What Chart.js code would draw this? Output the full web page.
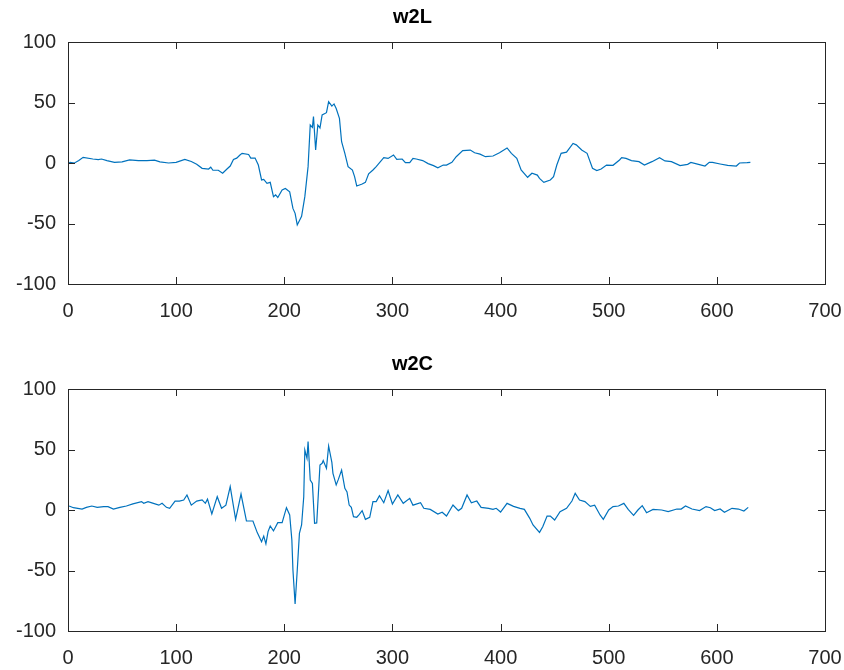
<!DOCTYPE html>
<html>
<head>
<meta charset="utf-8">
<script src="https://cdn.jsdelivr.net/npm/chart.js@4.4.1/dist/chart.umd.min.js"></script>
<style>
  body { margin: 0; background: #fff; }
  canvas { position: absolute; left: 0; }
  #c1 { top: 0; }
  #c2 { top: 347px; }
</style>
</head>
<body>
<canvas id="c1" width="844" height="347"></canvas>
<canvas id="c2" width="844" height="323"></canvas>
<script>
// w2L samples (x = sample index, y = value)
const w2L_x = [1, 2, 6, 10, 14, 23, 28, 31, 36, 43, 50, 57, 65, 73, 80, 85, 93, 100, 108, 114,
  119, 124, 130, 132, 134, 139, 143, 147, 150, 153, 156, 159, 161, 167, 169, 173, 176, 179, 181, 184,
  187, 190, 192, 194, 198, 201, 205, 208, 210, 212, 216, 219, 222, 224, 226, 227, 229, 231, 233, 235,
  239, 241, 244, 246, 248, 251, 253, 256, 259, 263, 265, 267, 272, 275, 278, 282, 285, 292, 296, 301,
  304, 309, 312, 316, 319, 322, 328, 333, 338, 342, 347, 350, 355, 359, 365, 372, 376, 381, 386, 393,
  399, 406, 410, 415, 419, 425, 429, 434, 436, 440, 446, 449, 452, 456, 461, 467, 470, 475, 480, 485,
  489, 493, 498, 504, 510, 512, 516, 521, 528, 533, 540, 547, 552, 558, 566, 573, 576, 583, 589, 593,
  596, 603, 610, 618, 621, 628, 631];
const w2L_y = [0, 0.5, 0, 2, 4.7, 3.3, 2.8, 3.3, 2, 0.5, 1, 2.5, 2, 2, 2.3, 1, 0, 0.5, 3, 1.2,
  -1, -4.4, -5, -3.5, -6, -6, -8.5, -5, -2.5, 3, 4, 6.6, 8, 7, 4, 4.1, -1.7, -14, -13.5, -16.8,
  -16, -27.8, -26.4, -28.5, -22.3, -21, -23.8, -37.5, -41.6, -51.2, -44, -27.8, -3, 31.4, 29.5, 38.3, 10.7, 31.4, 29, 39.7,
  41.6, 50.7, 47, 48.8, 45, 36.9, 17.6, 8, -3, -5.8, -11.3, -19, -17.4, -16, -9, -5.8, -3, 4.4, 3.8, 6.6,
  3, 3.3, 0.3, 0.3, 3.8, 3.3, 2, -0.5, -2.2, -3.9, -1.7, -1.7, 0.6, 5.2, 10.2, 10.7, 8.5, 7.3, 5.2, 5.8,
  8.5, 12.4, 8, 3.8, -5.8, -11.8, -8.5, -10, -12.7, -16, -14, -11.3, -1.7, 8, 9, 16.2, 15, 10.7, 8, -4.4,
  -6.3, -5, -1.7, -1.9, 2.5, 4.4, 3.8, 2, 1.1, -1.7, 1.1, 4.4, 1.7, 1.1, -2.2, -1.1, 0.5, -1.1, -2.5, 0.5,
  0.5, -0.8, -2, -2.5, 0, 0.3, 0.5];

// w2C samples
const w2C_x = [1, 5, 13, 17, 22, 27, 33, 37, 42, 48, 54, 60, 68, 70, 74, 79, 84, 87, 91, 94,
  99, 103, 107, 110, 114, 119, 124, 127, 129, 133, 138, 142, 146, 150, 155, 160, 165, 171, 175, 179,
  181, 183, 185, 187, 190, 194, 198, 202, 205, 207, 208, 210, 212, 214, 216, 218, 219, 221, 222, 224,
  226, 228, 230, 233, 235, 236, 239, 241, 244, 245, 248, 250, 253, 256, 258, 260, 262, 264, 267, 269,
  272, 275, 279, 282, 285, 288, 292, 296, 300, 305, 310, 316, 319, 326, 329, 335, 342, 346, 350, 356,
  361, 364, 369, 373, 378, 382, 389, 393, 396, 400, 406, 412, 418, 422, 427, 430, 436, 439, 443, 446,
  450, 455, 461, 466, 469, 473, 478, 483, 487, 492, 495, 500, 504, 509, 514, 518, 523, 527, 531, 535,
  541, 549, 555, 563, 567, 571, 577, 584, 590, 594, 598, 603, 607, 614, 620, 625, 629];
const w2C_y = [3.3, 1.9, 0.8, 2.2, 3.3, 2.2, 2.8, 2.8, 0.8, 2.2, 3.3, 5, 6.9, 5.5, 6.9, 5.5, 4, 5.5, 2.2, 1.4,
  7.4, 7.4, 8.3, 12.4, 4, 7.4, 8.3, 5.5, 9, -3.3, 11, 1.4, 4, 19.3, -7.7, 13.2, -9, -9.1, -18.7, -26.2,
  -21.6, -28, -17.9, -13.2, -17.3, -10.5, -10.5, 1.9, -4.1, -24.8, -49.6, -77.7, -49.6, -19.3, -12.4, 11, 49.6, 42.7, 56.5, 24.8,
  22, -11, -10.7, 37.2, 38.6, 40.8, 34.4, 52.9, 39.4, 30.3, 20.7, 25.3, 33, 17.9, 15, 4.1, 2.2, -5.5, -6, -4,
  -0.5, -7.7, -6, 6.9, 6.9, 11.8, 6, 16, 5, 12.4, 5.5, 9.6, 4, 6, 1.4, 0.5, -3.3, -1.9, -5, 4.1,
  -0.5, 1.4, 12.4, 6, 7.4, 2.2, 1.4, 0.5, 1.4, -1.7, 5.5, 3, 1.4, 0.5, -6.9, -12.4, -18.5, -13.8, -5, -5,
  -8.3, -1.4, 1.4, 7.4, 13.8, 8.3, 6.9, 3, 4, -4.1, -7.7, 0, 2.8, 3.3, 5.5, 0.5, -4.4, 0, 3.6, -2.2,
  0.5, 0, -1.4, 0.8, 0.8, 3.3, 0.8, -0.5, 2.8, 1.9, -0.5, 0.8, -1.9, 1.4, 0.8, -0.8, 2.2];

const xTicks = [0, 100, 200, 300, 400, 500, 600, 700];
const yTicks = [-100, -50, 0, 50, 100];

const axisColor = '#262626';
const lineColor = '#0072BD';
const font = { family: 'Liberation Sans, Arial, Helvetica, sans-serif', size: 20 };

// MATLAB-style box with inward ticks on all four sides
const boxPlugin = {
  id: 'box',
  afterDraw(chart) {
    const { ctx, chartArea: a, scales } = chart;
    const len = 7;
    ctx.save();
    ctx.strokeStyle = axisColor;
    ctx.lineWidth = 1;
    ctx.strokeRect(Math.round(a.left) + 0.5, Math.round(a.top) + 0.5,
      Math.round(a.right - a.left), Math.round(a.bottom - a.top));
    ctx.beginPath();
    xTicks.forEach(v => {
      const px = Math.round(scales.x.getPixelForValue(v)) + 0.5;
      ctx.moveTo(px, a.bottom); ctx.lineTo(px, a.bottom - len);
      ctx.moveTo(px, a.top); ctx.lineTo(px, a.top + len);
    });
    yTicks.forEach(v => {
      const py = Math.round(scales.y.getPixelForValue(v)) + 0.5;
      ctx.moveTo(a.left, py); ctx.lineTo(a.left + len, py);
      ctx.moveTo(a.right, py); ctx.lineTo(a.right - len, py);
    });
    ctx.stroke();
    ctx.restore();
  }
};

function makeChart(id, title, xs, ys, xAxisHeight) {
  const ctx = document.getElementById(id).getContext('2d');
  return new Chart(ctx, {
    type: 'line',
    data: {
      datasets: [{
        data: xs.map((x, i) => ({ x: x, y: ys[i] })),
        borderColor: lineColor,
        borderWidth: 1.2,
        pointRadius: 0,
        tension: 0,
        fill: false,
      }],
    },
    options: {
      responsive: false,
      animation: false,
      layout: { padding: { left: 0, right: 19, top: 0, bottom: 0 } },
      plugins: {
        legend: { display: false },
        tooltip: { enabled: false },
        title: {
          display: true,
          text: title,
          color: '#000',
          font: { family: font.family, size: 20, weight: 'bold' },
          padding: { top: 5, bottom: 13 },
        },
      },
      scales: {
        x: {
          type: 'linear',
          min: 0,
          max: 700,
          afterBuildTicks: (s) => { s.ticks = xTicks.map(v => ({ value: v })); },
          afterFit: (s) => { s.height = xAxisHeight; s.paddingLeft = 0; s.paddingRight = 0; },
          grid: { display: false, drawTicks: false },
          border: { display: false },
          ticks: { color: axisColor, font: font, padding: 15, maxRotation: 0 },
        },
        y: {
          min: -100,
          max: 100,
          afterBuildTicks: (s) => { s.ticks = yTicks.map(v => ({ value: v })); },
          afterFit: (s) => { s.width = 68; s.paddingTop = 0; s.paddingBottom = 0; },
          grid: { display: false, drawTicks: false },
          border: { display: false },
          ticks: { color: axisColor, font: font, padding: 12 },
        },
      },
    },
    plugins: [boxPlugin],
  });
}

makeChart('c1', 'w2L', w2L_x, w2L_y, 63);
makeChart('c2', 'w2C', w2C_x, w2C_y, 39);
</script>
</body>
</html>
